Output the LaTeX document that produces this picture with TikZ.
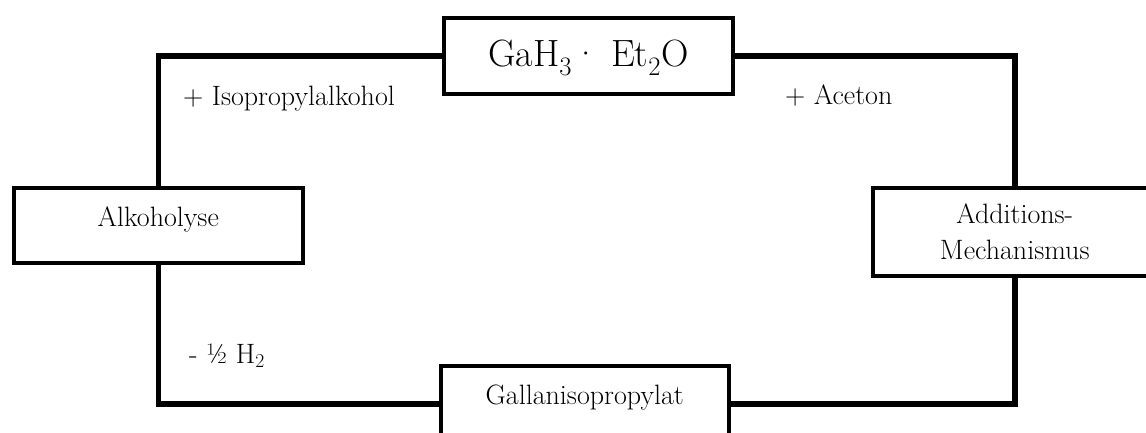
\documentclass[tikz,border=0pt]{standalone}
\begin{document}
\begin{tikzpicture}[x=1pt,y=-1pt,
  box/.style={draw=black, line width=3.5pt, fill=white, rectangle, inner sep=0pt, anchor=north west,
    font=\fontsize{28}{36}\selectfont, align=center},
  conn/.style={draw=black, line width=5.5pt, line join=miter},
  lbl/.style={anchor=base west, inner sep=0pt, font=\fontsize{28}{34}\selectfont}]
\useasboundingbox (0,0) rectangle (1146,432);

\node[box, minimum width=289pt, minimum height=76pt, text height=26pt, text depth=4pt,
  font=\fontsize{38}{44}\selectfont] (top) at (442,16)
  {GaH\textsubscript{3}· Et\textsubscript{2}O};
\node[box, minimum width=289pt, minimum height=75pt, text height=20pt, text depth=17pt] (alk) at (12,186) {Alkoholyse};
\node[box, minimum width=284pt, minimum height=88pt] (add) at (871,186) {Additions-\\Mechanismus};
\node[box, minimum width=288pt, minimum height=76pt, text height=20pt, text depth=18pt] (gal) at (439,364) {Gallanisopropylat};

\coordinate (c1) at (alk.north |- top.west);
\coordinate (c2) at (alk.south |- gal.west);
\coordinate (c3) at (add.south |- gal.east);
\coordinate (c4) at (add.north |- top.east);

\draw[conn] (top.west) -- (c1) -- (alk.north);
\draw[conn] (alk.south) -- (c2) -- (gal.west);
\draw[conn] (gal.east) -- (c3) -- (add.south);
\draw[conn] (add.north) -- (c4) -- (top.east);

\node[lbl] (l1) at (183,105) {+ Isopropylalkohol};
\node[lbl] (l2) at (785,104) {+ Aceton};
\node[lbl] (l3) at (189,363) {- ½ H\textsubscript{2}};
\end{tikzpicture}
\end{document}
